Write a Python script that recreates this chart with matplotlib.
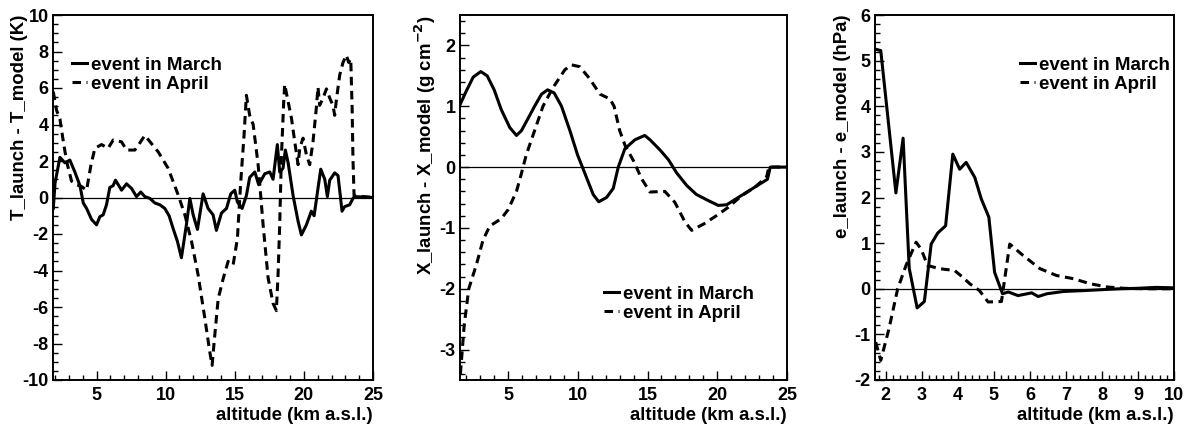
import matplotlib
matplotlib.use("Agg")
import matplotlib.pyplot as plt
from matplotlib.ticker import MultipleLocator

plt.rcParams['font.family'] = ['Liberation Sans', 'DejaVu Sans']
plt.rcParams['font.weight'] = 'bold'
plt.rcParams['axes.labelweight'] = 'bold'
plt.rcParams['axes.unicode_minus'] = False
plt.rcParams['mathtext.default'] = 'bf'

# --- panel 1: temperature difference
alt_T_mar = [1.87, 2.0, 2.35, 2.71, 3.07, 3.43, 3.8, 4.04, 4.28, 4.64,
             5.0, 5.24, 5.48, 5.72, 5.96, 6.2, 6.37, 6.81, 7.17, 7.53,
             7.89, 8.2, 8.49, 8.86, 9.22, 9.58, 9.94, 10.25, 10.54, 10.85,
             11.14, 11.5, 11.75, 11.99, 12.3, 12.71, 13.07, 13.43, 13.67, 14.04,
             14.4, 14.71, 15.0, 15.19, 15.53, 15.84, 16.08, 16.45, 16.73, 17.17,
             17.53, 17.77, 18.08, 18.25, 18.49, 18.66, 18.86, 19.22, 19.58, 19.82,
             20.18, 20.54, 20.74, 21.02, 21.22, 21.51, 21.7, 21.87, 22.23, 22.47,
             22.76, 22.95, 23.31, 23.55, 23.67, 25.0]
dT_mar = [-0.6, 0.8, 2.2, 1.9, 2.05, 1.4, 0.65, -0.3, -0.6, -1.2,
          -1.5, -1.05, -0.95, -0.4, 0.55, 0.65, 0.95, 0.4, 0.75, 0.5,
          0.05, 0.3, 0.05, -0.05, -0.3, -0.4, -0.6, -1.0, -1.7, -2.4,
          -3.3, -1.5, -0.05, -0.95, -1.75, 0.2, -0.6, -0.95, -1.8, -0.85,
          -0.6, 0.2, 0.4, -0.25, -0.6, 0.1, 1.1, 1.4, 0.7, 1.3,
          1.4, 1.0, 2.9, 1.4, 1.6, 2.6, 1.9, 0.1, -1.3, -2.05,
          -1.5, -0.75, -1.0, 0.5, 1.55, 1.0, 0.05, 0.95, 1.35, 1.2,
          -0.75, -0.5, -0.4, -0.05, 0.05, 0.0]

alt_T_apr = [1.87, 2.1, 2.35, 2.59, 2.83, 3.19, 3.55, 3.92, 4.28, 4.6,
             4.88, 5.36, 5.84, 6.2, 6.81, 7.17, 7.77, 8.01, 8.49, 8.98,
             9.46, 10.18, 10.9, 11.39, 11.87, 12.35, 12.83, 13.19, 13.36, 13.51,
             13.8, 14.16, 14.52, 14.88, 15.19, 15.43, 15.67, 15.84, 16.08, 16.33,
             16.69, 17.05, 17.41, 17.77, 18.01, 18.13, 18.25, 18.37, 18.54, 18.61,
             18.86, 19.1, 19.34, 19.58, 19.7, 19.94, 20.18, 20.42, 20.66, 20.9,
             21.02, 21.14, 21.39, 21.63, 21.87, 22.1, 22.23, 22.35, 22.59, 22.83,
             23.07, 23.24, 23.39, 23.49, 23.55, 23.63, 25.0]
dT_apr = [5.8, 4.8, 4.3, 3.1, 2.0, 0.9, 0.7, 0.6, 0.4, 1.8,
          2.7, 2.9, 2.7, 3.15, 3.05, 2.6, 2.6, 2.85, 3.4, 2.95,
          2.5, 1.6, 0.15, -0.95, -2.4, -4.25, -6.6, -8.45, -9.2, -7.9,
          -5.55, -4.45, -3.5, -3.7, -2.25, 0.85, 3.4, 5.6, 4.5, 4.0,
          1.8, -1.5, -4.4, -5.8, -6.2, -4.25, -1.5, 2.15, 5.25, 6.2,
          5.25, 4.35, 3.05, 1.8, 2.7, 3.25, 2.35, 1.8, 3.05, 4.9,
          6.05, 5.05, 5.45, 5.95, 5.45, 5.05, 4.5, 5.35, 6.7, 7.4,
          7.8, 7.4, 7.6, 4.9, 2.15, 0.1, 0.0]

# --- panel 2: atmospheric depth difference
alt_X_mar = [1.58, 2.0, 2.5, 3.04, 3.5, 4.0, 4.5, 5.12, 5.6, 5.96,
             6.55, 6.9, 7.4, 7.83, 8.3, 8.83, 9.43, 9.98, 10.5, 11.1,
             11.5, 12.06, 12.54, 12.9, 13.37, 14.1, 14.8, 15.17, 15.9, 16.5,
             17.1, 17.8, 18.5, 19.35, 20.07, 20.67, 21.5, 22.2, 22.9, 23.6,
             23.8, 25.0]
dX_mar = [1.04, 1.25, 1.48, 1.57, 1.5, 1.27, 0.95, 0.65, 0.52, 0.6,
          0.85, 1.0, 1.2, 1.27, 1.22, 1.0, 0.6, 0.2, -0.1, -0.45,
          -0.57, -0.5, -0.35, 0.0, 0.3, 0.45, 0.52, 0.45, 0.28, 0.12,
          -0.1, -0.3, -0.45, -0.55, -0.63, -0.62, -0.5, -0.4, -0.3, -0.2,
          0.0, 0.0]

alt_X_apr = [1.58, 1.85, 2.18, 2.73, 3.2, 3.68, 4.5, 5.0, 5.6, 5.96,
             6.3, 6.9, 7.5, 8.2, 9.07, 9.55, 10.14, 10.86, 11.58, 12.3,
             12.6, 13.0, 13.4, 14.0, 14.57, 15.17, 16.24, 16.96, 17.68, 18.16,
             19.07, 20.0, 20.79, 21.75, 22.7, 23.54, 23.7, 25.0]
dX_apr = [-3.4, -2.6, -2.0, -1.6, -1.2, -0.97, -0.85, -0.7, -0.4, -0.1,
          0.2, 0.6, 1.0, 1.3, 1.6, 1.68, 1.65, 1.45, 1.2, 1.12,
          1.0, 0.6, 0.35, 0.1, -0.19, -0.41, -0.4, -0.58, -0.9, -1.04,
          -0.93, -0.79, -0.66, -0.47, -0.33, -0.16, 0.0, 0.0]

# --- panel 3: vapour pressure difference
alt_e_mar = [1.72, 1.86, 2.28, 2.48, 2.65, 2.87, 3.07, 3.26, 3.44, 3.66,
             3.86, 4.05, 4.23, 4.47, 4.65, 4.86, 5.02, 5.24, 5.4, 5.67,
             6.05, 6.23, 6.47, 6.93, 7.5, 8.0, 8.5, 9.0, 9.5, 10.0]
de_mar = [5.25, 5.22, 2.1, 3.3, 0.45, -0.42, -0.28, 0.98, 1.22, 1.38,
          2.95, 2.62, 2.77, 2.44, 1.97, 1.57, 0.36, -0.11, -0.07, -0.15,
          -0.09, -0.17, -0.11, -0.06, -0.04, -0.02, 0.0, 0.01, 0.03, 0.02]

alt_e_apr = [1.72, 1.86, 2.09, 2.33, 2.56, 2.84, 2.98, 3.16, 3.49, 3.91,
             4.14, 4.33, 4.6, 4.84, 5.21, 5.44, 5.81, 6.28, 6.74, 7.21,
             7.67, 8.14, 8.6, 9.2, 10.0]
de_apr = [-1.17, -1.57, -0.87, 0.0, 0.51, 1.02, 0.87, 0.51, 0.44, 0.4,
          0.25, 0.11, -0.04, -0.29, -0.28, 0.98, 0.73, 0.44, 0.29, 0.22,
          0.11, 0.04, 0.01, 0.0, 0.0]

labels = ["event in March", "event in April"]
xlabel = "altitude (km a.s.l.)"

W, H = 1188, 430
fig = plt.figure(figsize=(W / 100, H / 100), dpi=100)


def make_ax(x0, x1):
    return fig.add_axes([x0 / W, (H - 380) / H, (x1 - x0) / W, 365 / H])


def style(ax, xlim, ylim, xmaj, xmin, ymaj, ymin, ylabel, ylab_x, leg_xy):
    ax.set_xlim(*xlim)
    ax.set_ylim(*ylim)
    ax.axhline(0, color='black', lw=0.9, zorder=1)
    ax.xaxis.set_major_locator(MultipleLocator(xmaj))
    ax.xaxis.set_minor_locator(MultipleLocator(xmin))
    ax.yaxis.set_major_locator(MultipleLocator(ymaj))
    ax.yaxis.set_minor_locator(MultipleLocator(ymin))
    ax.tick_params(which='both', direction='in', top=False, right=False,
                   width=1.0, labelsize=13)
    ax.tick_params(which='major', length=6.5)
    ax.tick_params(which='minor', length=3.5)
    ax.tick_params(axis='y', pad=3)
    ax.tick_params(axis='x', pad=5)
    for lab in ax.get_xticklabels() + ax.get_yticklabels():
        lab.set_fontweight('bold')
    for sp in ax.spines.values():
        sp.set_linewidth(1.4)
    ax.set_xlabel(xlabel, fontsize=13.4, loc='right')
    ax.xaxis.set_label_coords(1.0, -0.075)
    ax.set_ylabel(ylabel, fontsize=13.4, loc='top')
    ax.yaxis.set_label_coords(ylab_x, 1.0)
    ax.legend(labels, loc='upper left', bbox_to_anchor=leg_xy, frameon=False,
              handlelength=0.8, handletextpad=0.2,
              labelspacing=0.1, borderpad=0, borderaxespad=0,
              prop={'weight': 'bold', 'size': 13.5})


solid = dict(color='black', lw=2.2, ls='-')
dashed = dict(color='black', lw=2.2, ls=(0, (2.8, 1.8)))

ax1 = make_ax(53, 373)
ax1.plot(alt_T_mar, dT_mar, **solid)
ax1.plot(alt_T_apr, dT_apr, **dashed)
style(ax1, (1.85, 25), (-10, 10), 5, 1, 2, 0.5,
      "T_launch - T_model (K)", -0.078, (0.06, 0.886))

ax2 = make_ax(460, 787)
ax2.plot(alt_X_mar, dX_mar, **solid)
ax2.plot(alt_X_apr, dX_apr, **dashed)
style(ax2, (1.55, 25), (-3.5, 2.5), 5, 1, 1, 0.2,
      "X_launch - X_model (g cm$^{-2}$)", -0.067, (0.44, 0.259))

ax3 = make_ax(875, 1174)
ax3.plot(alt_e_mar, de_mar, **solid)
ax3.plot(alt_e_apr, de_apr, **dashed)
style(ax3, (1.7, 10), (-2, 6), 1, 0.2, 1, 0.2,
      "e_launch - e_model (hPa)", -0.08, (0.485, 0.886))

fig.savefig("out.png", dpi=100)
